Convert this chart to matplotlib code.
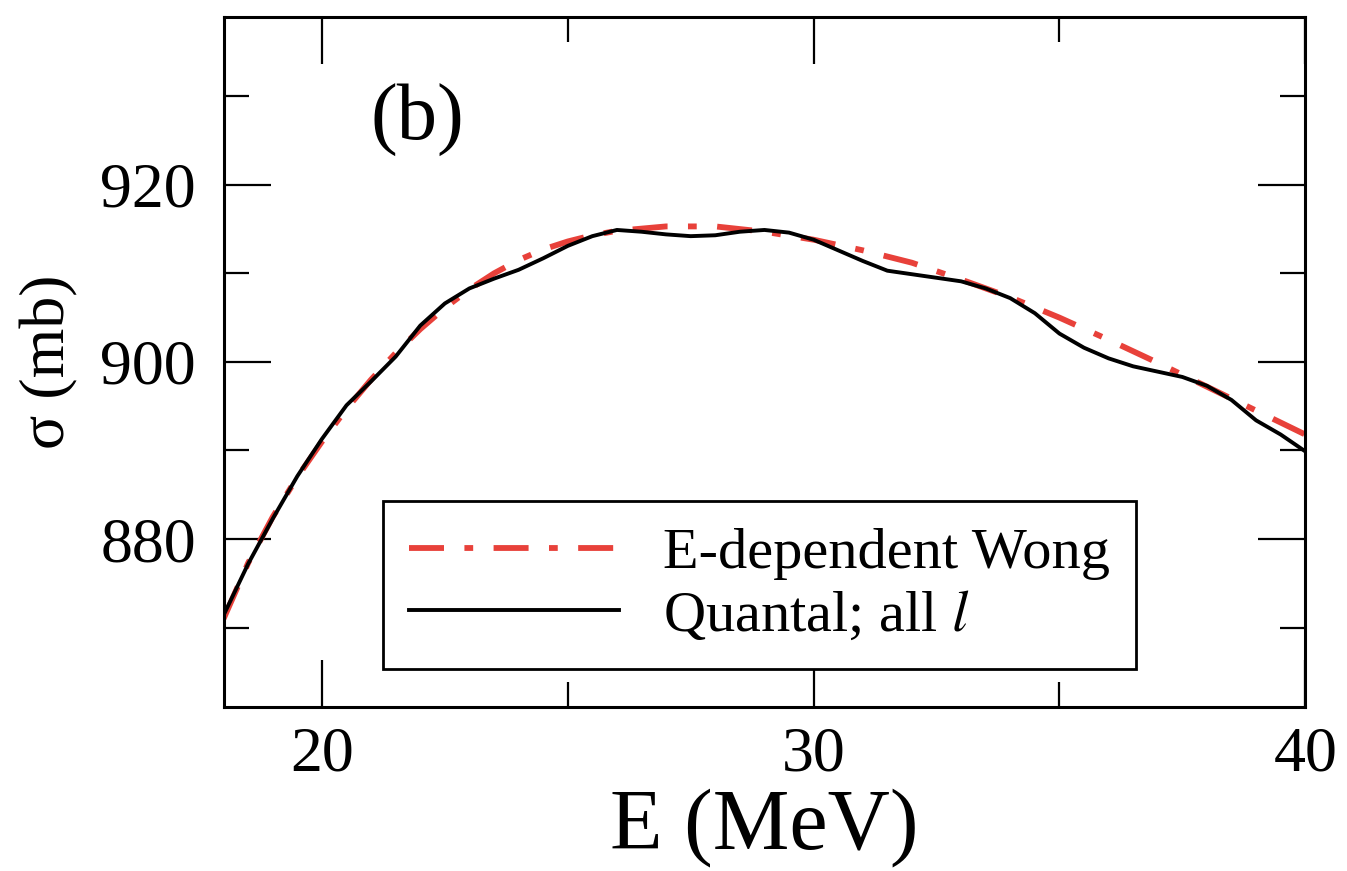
import matplotlib
matplotlib.use("Agg")
from matplotlib import pyplot as plt
from matplotlib.ticker import MultipleLocator

plt.rcParams['font.family'] = ['Liberation Serif', 'DejaVu Serif']
plt.rcParams['mathtext.fontset'] = 'stix'

# E-dependent Wong (red dash-dot)
E_wong = [18, 18.5, 19, 19.5, 20, 20.5, 21, 21.5, 22, 22.5, 23, 23.5, 24, 24.5,
          25, 25.5, 26, 27, 28, 29, 30, 31, 32, 33, 34, 35, 36, 37, 38, 39, 40]
sig_wong = [871.0, 877.3, 882.5, 887.0, 891.0, 894.7, 898.0, 901.0, 903.7, 906.1,
            908.2, 910.0, 911.5, 912.7, 913.6, 914.3, 914.8, 915.3, 915.3, 914.7,
            913.8, 912.6, 911.2, 909.3, 907.3, 905.0, 902.5, 899.9, 897.2, 894.5, 891.8]

# Quantal, all l (black solid)
E_quant = [18, 18.5, 19, 19.5, 20, 20.5, 21, 21.5, 22, 22.5, 23, 23.5, 24, 24.5,
           25, 25.5, 26, 26.5, 27, 27.5, 28, 28.5, 29, 29.5, 30, 30.5, 31, 31.5,
           32, 32.5, 33, 33.5, 34, 34.5, 35, 35.5, 36, 36.5, 37, 37.5, 38, 38.5,
           39, 39.5, 40]
sig_quant = [871.4, 877.2, 882.3, 887.1, 891.3, 895.1, 897.8, 900.6, 904.1, 906.6,
             908.3, 909.4, 910.4, 911.7, 913.1, 914.2, 914.9, 914.7, 914.4, 914.2,
             914.3, 914.7, 914.9, 914.6, 913.8, 912.6, 911.4, 910.3, 909.9, 909.5,
             909.1, 908.3, 907.2, 905.5, 903.2, 901.6, 900.4, 899.5, 898.9, 898.3,
             897.3, 895.7, 893.4, 891.8, 889.9]

fig = plt.figure(figsize=(13.47, 8.71), dpi=100)
ax = fig.add_axes([0.166, 0.188, 0.803, 0.793])

ax.plot(E_wong, sig_wong, color='#e8413a', lw=4.2,
        dashes=[6, 3.5, 1.5, 3.5], label='E-dependent Wong')
ax.plot(E_quant, sig_quant, color='black', lw=2.8, solid_joinstyle='round',
        label='Quantal; all $\\mathit{l}$')

ax.set_xlim(18, 40)
ax.set_ylim(861, 939)
ax.xaxis.set_major_locator(MultipleLocator(10))
ax.xaxis.set_minor_locator(MultipleLocator(5))
ax.yaxis.set_major_locator(MultipleLocator(20))
ax.yaxis.set_minor_locator(MultipleLocator(10))

ax.tick_params(which='both', direction='in', top=True, right=True, width=1.6)
ax.tick_params(which='major', length=34, labelsize=46)
ax.tick_params(which='minor', length=18)
ax.tick_params(axis='x', pad=14)
ax.tick_params(axis='y', pad=20)
for s in ax.spines.values():
    s.set_linewidth(2.2)

ax.set_xlabel('E (MeV)', fontsize=62, labelpad=2)
ax.set_ylabel('σ (mb)', fontsize=46, labelpad=16)

ax.text(0.179, 0.85, '(b)', transform=ax.transAxes, fontsize=58,
        ha='center', va='center')

leg = ax.legend(loc='lower left', bbox_to_anchor=(0.147, 0.056), fontsize=42,
                frameon=True, fancybox=False, framealpha=1, handlelength=3.6,
                handletextpad=0.75, borderpad=0.45, labelspacing=0.15,
                borderaxespad=0)
leg.get_frame().set_edgecolor('black')
leg.get_frame().set_linewidth(2.0)

fig.savefig('out.png', dpi=100)
